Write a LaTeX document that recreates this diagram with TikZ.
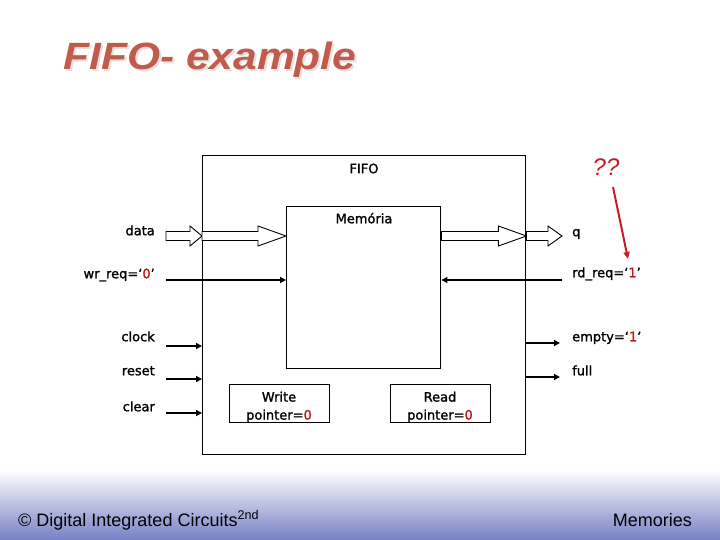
\documentclass[tikz,border=0pt]{standalone}
\usepackage{fontspec}
\setmainfont{DejaVu Sans}[FakeBold=1.6]
\newfontfamily\arialf{Liberation Sans}
\newfontfamily\lblfont{DejaVu Sans}[FakeBold=1.4]
\usetikzlibrary{arrows.meta,calc}
\definecolor{titlered}{RGB}{192,92,78}
\definecolor{titleshadow}{RGB}{232,224,220}
\definecolor{sigred}{RGB}{190,20,20}
\definecolor{arrred}{RGB}{200,30,35}
\definecolor{footblue}{RGB}{118,128,196}
\newcommand\zr[1]{\textcolor{sigred}{#1}}
\newcommand\titletext{\scalebox{1.12}[1]{\arialf\bfseries\itshape\fontsize{38}{40}\selectfont FIFO- example}}
\newcommand\hollowarr[3]{%
  \draw[hollow] let \p1=(#1), \p2=(#2) in
    (\x1,\y1+4.5pt) -- (\x2-#3,\y1+4.5pt) -- (\x2-#3,\y1+10pt) -- (\x2,\y1)
    -- (\x2-#3,\y1-10pt) -- (\x2-#3,\y1-4.5pt) -- (\x1,\y1-4.5pt) -- cycle;}
\begin{document}
\begin{tikzpicture}[x=1pt,y=-1pt,
  box/.style={draw,line width=1.4pt,anchor=north west,inner sep=0pt},
  lbl/.style={font=\lblfont\fontsize{13}{15}\selectfont,inner sep=0pt,text height=9.5pt,text depth=3pt},
  sig/.style={line width=2.2pt,-{Triangle[length=6pt,width=6pt]}},
  hollow/.style={draw,fill=white,line width=0.9pt},
]
\useasboundingbox (0,0) rectangle (720,540);
\fill[white] (0,0) rectangle (720,540);
\shade[top color=white,bottom color=footblue] (0,470) rectangle (720,540);

% title (with faint shadow, in one node)
\node[anchor=base west,inner sep=0pt] (title) at (63,70)
  {\rlap{\hspace{2pt}\raisebox{-2pt}{\textcolor{titleshadow}{\titletext}}}\textcolor{titlered}{\titletext}};

% boxes
\node[box,minimum width=323pt,minimum height=299pt] (fifo) at (202,155) {};
\node[box,minimum width=154pt,minimum height=162pt] (mem) at (286,206) {};
\node[box,minimum width=100pt,minimum height=38pt] (wp) at (229,384) {};
\node[box,minimum width=100pt,minimum height=38pt] (rp) at (390,384) {};

\node[lbl] (lfifo) at (364,170) {FIFO};
\node[lbl] (lmem) at (364,220) {Memória};
\node[lbl,align=center,font=\lblfont\fontsize{13}{18}\selectfont,text height=,text depth=] (lwp) at (279,407) {Write\\pointer=\zr{0}};
\node[lbl,align=center,font=\lblfont\fontsize{13}{18}\selectfont,text height=,text depth=] (lrp) at (440,407) {Read\\pointer=\zr{0}};

% coordinates
\coordinate (din) at (166,236);
\coordinate (qend) at (562,236);
\coordinate (wrs) at (166,280);
\coordinate (rds) at (562,280);
\coordinate (clk) at (166,346);
\coordinate (rst) at (166,379);
\coordinate (clr) at (166,413);
\coordinate (emp) at (560,343);
\coordinate (ful) at (560,377);

% data path
\hollowarr{din}{fifo.west|-din}{12pt}
\hollowarr{fifo.west|-din}{mem.west|-din}{28pt}
\hollowarr{mem.east|-din}{fifo.east|-din}{28pt}
\hollowarr{fifo.east|-din}{qend}{14pt}

% signals
\draw[sig] (wrs) -- (mem.west|-wrs);
\draw[sig] (rds) -- (mem.east|-rds);
\draw[sig] (clk) -- (fifo.west|-clk);
\draw[sig] (rst) -- (fifo.west|-rst);
\draw[sig] (clr) -- (fifo.west|-clr);
\draw[sig] (fifo.east|-emp) -- (emp);
\draw[sig] (fifo.east|-ful) -- (ful);

% labels
\node[lbl,anchor=east] (ldata) at (155,232) {data};
\node[lbl,anchor=east] (lwr) at (155,275) {wr\_req=‘\zr{0}’};
\node[lbl,anchor=east] (lclk) at (155,338) {clock};
\node[lbl,anchor=east] (lrst) at (155,372) {reset};
\node[lbl,anchor=east] (lclr) at (155,408) {clear};
\node[lbl,anchor=west] (lq) at (572,233) {q};
\node[lbl,anchor=west] (lrd) at (572,274) {rd\_req=‘\zr{1}’};
\node[lbl,anchor=west] (lemp) at (572,338) {empty=‘\zr{1}’};
\node[lbl,anchor=west] (lful) at (572,372) {full};

% ?? annotation
\node[text=arrred,inner sep=0pt,font=\arialf\itshape\fontsize{24}{26}\selectfont] (qq) at (606,167) {??};
\coordinate (qa) at (613,187);
\coordinate (qb) at (628,259);
\draw[arrred,line width=2pt,-{Triangle[length=7pt,width=6pt]}] (qa) -- (qb);

% footer
\node[anchor=base west,inner sep=0pt,font=\arialf\fontsize{18}{20}\selectfont] (foot) at (18,526)
  {© Digital Integrated Circuits\textsuperscript{2nd}};
\node[anchor=base east,inner sep=0pt,font=\arialf\fontsize{18}{20}\selectfont] (mems) at (692,526) {Memories};
\end{tikzpicture}
\end{document}
